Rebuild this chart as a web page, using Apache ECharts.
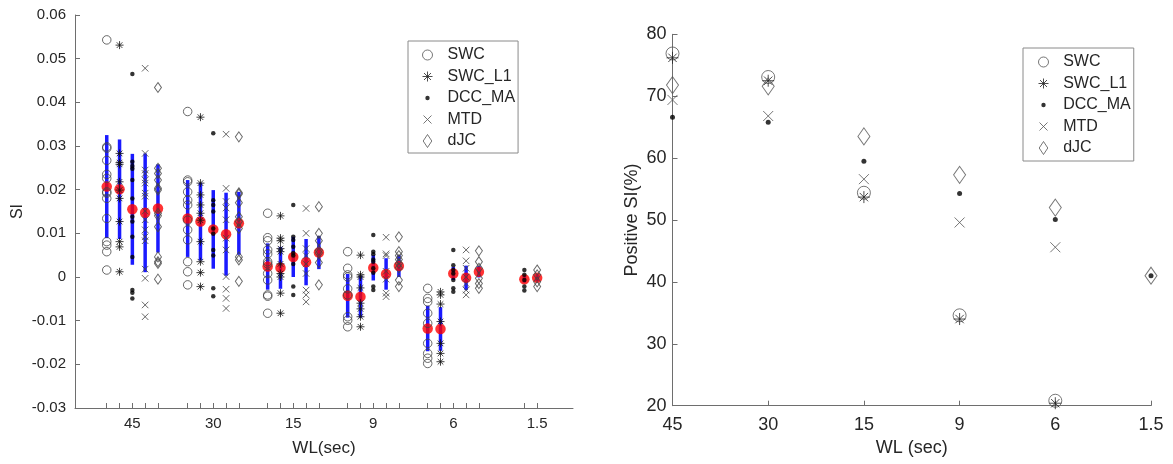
<!DOCTYPE html>
<html>
<head>
<meta charset="utf-8">
<script src="https://cdn.jsdelivr.net/npm/echarts@6/dist/echarts.min.js"></script>
<style>
  html, body { margin: 0; padding: 0; background: #fff; }
  #chart { width: 1173px; height: 464px; }
</style>
</head>
<body>
<div id="chart"></div>
<script>
// ---- data ----
const methods = ['SWC', 'SWC_L1', 'DCC_MA', 'MTD', 'dJC'];
const groupLabels = ['45', '30', '15', '9', '6', '1.5'];
// left panel: x position of each WL group (axis units) and the slot of each method in it
const groupCenters = [4.48, 10.8, 17.05, 23.3, 29.55, 36.1];
const groupSlots = [
  [-2, -1, 0, 1, 2],
  [-2, -1, 0, 1, 2],
  [-2, -1, 0, 1, 2],
  [-2, -1, 0, 1, 2],
  [-2, -1, 0, 1, 2],
  [null, null, -1, null, 0]
];

// SI of every run, per group (45, 30, 15, 9, 6, 1.5)
const swcPts = [
  [0.0543, 0.0298, 0.0295, 0.0267, 0.0235, 0.0226, 0.0195, 0.0192, 0.018, 0.0134, 0.0081, 0.0073, 0.0058, 0.0016],
  [0.0379, 0.0222, 0.0218, 0.0195, 0.0176, 0.0165, 0.013, 0.0108, 0.0085, 0.0035, 0.0012, -0.0018],
  [0.0146, 0.009, 0.0083, 0.0062, 0.0053, 0.0035, 0.003, 0.0008, -0.0007, -0.0041, -0.0044, -0.0083],
  [0.0058, 0.002, 0.0005, 0.0, -0.0027, -0.0041, -0.0091, -0.0099, -0.0114],
  [-0.0026, -0.0049, -0.0057, -0.0083, -0.0106, -0.0152, -0.0175, -0.0186, -0.0198],
  []
];
const swcL1Pts = [
  [0.0531, 0.0283, 0.0262, 0.0258, 0.0218, 0.0199, 0.018, 0.0127, 0.0081, 0.0069, 0.0012],
  [0.0366, 0.0215, 0.0188, 0.0165, 0.0146, 0.013, 0.0081, 0.0035, 0.001, -0.0022],
  [0.014, 0.0089, 0.0083, 0.0065, 0.0058, 0.003, 0.0008, 0.0, -0.0037, -0.0083],
  [0.005, 0.0005, 0.0, -0.0025, -0.006, -0.0073, -0.0091, -0.0114],
  [-0.0034, -0.0041, -0.0062, -0.0102, -0.0152, -0.0175, -0.0194],
  []
];
const dccPts = [
  [0.0465, 0.0264, 0.0254, 0.0248, 0.0222, 0.018, 0.0138, 0.0127, 0.0092, 0.0046, -0.003, -0.0036, -0.0049],
  [0.0329, 0.0176, 0.0165, 0.015, 0.0111, 0.0099, 0.0062, 0.0049, -0.0026, -0.0044],
  [0.0165, 0.0092, 0.0085, 0.0069, 0.0055, 0.0049, 0.003, -0.0022, -0.0041],
  [0.0096, 0.0058, 0.0052, 0.004, 0.0035, 0.002, 0.001, -0.0022, -0.003],
  [0.0062, 0.0027, 0.0016, 0.0008, -0.0007, -0.0026, -0.0034],
  [0.0016, 0.0005, -0.0007, -0.0022, -0.0031]
];
const mtdPts = [
  [0.0478, 0.0283, 0.0245, 0.0237, 0.0222, 0.0215, 0.0192, 0.0185, 0.0151, 0.0131, 0.0108, 0.0092, 0.0083, 0.0018, -0.0003, -0.0064, -0.0091],
  [0.0327, 0.0203, 0.0173, 0.0158, 0.0131, 0.0089, 0.0062, 0.0001, -0.0028, -0.0049, -0.0072],
  [0.0157, 0.01, 0.0065, 0.0049, 0.003, 0.0008, -0.003, -0.0041, -0.0057],
  [0.0091, 0.0053, 0.0049, 0.0013, -0.0005, -0.0037, -0.0045],
  [0.0062, 0.0037, 0.002, 0.0, -0.0015, -0.003, -0.0041],
  []
];
const djcPts = [
  [0.0434, 0.0249, 0.0237, 0.0222, 0.0203, 0.0199, 0.0146, 0.014, 0.0115, 0.0046, 0.0035, 0.0031, -0.0005],
  [0.0321, 0.0193, 0.019, 0.017, 0.0138, 0.0127, 0.0111, 0.0046, 0.0039, -0.001],
  [0.0161, 0.01, 0.0083, 0.0061, 0.0055, 0.0033, -0.0018],
  [0.0092, 0.0058, 0.0049, 0.004, 0.0031, 0.0021, -0.0007, -0.0022],
  [0.006, 0.0035, 0.002, -0.0003, -0.0015, -0.0026],
  [0.0016, 0.0005, -0.0011, -0.0022]
];

// mean (red dots) and std (blue bars) per method and group
const meanSWC   = [0.0207, 0.0134, 0.0024, -0.0043, -0.0118, null];
const meanSWCL1 = [0.0201, 0.0127, 0.0021, -0.0045, -0.0119, null];
const meanDCC   = [0.0155, 0.0109, 0.0046, 0.0021, 0.0008, -0.0005];
const meanMTD   = [0.0147, 0.0098, 0.0034, 0.0007, -0.0002, null];
const meanDJC   = [0.0157, 0.0123, 0.0056, 0.0025, 0.0012, -0.0002];
const stdSWC    = [0.0118, 0.0088, 0.0053, 0.005, 0.0052, null];
const stdSWCL1  = [0.0114, 0.0089, 0.0048, 0.0048, 0.005, null];
const stdDCC    = [0.0127, 0.009, 0.0046, 0.0029, 0.0015, 0.0008];
const stdMTD    = [0.0136, 0.0095, 0.0053, 0.0036, 0.0028, null];
const stdDJC    = [0.0101, 0.0072, 0.0038, 0.0025, 0.0013, 0.0008];

// right panel: positive SI (%)
const posSWC   = [76.9, 73.1, 54.4, 34.6, 20.8, null];
const posSWCL1 = [76.2, 72.5, 53.7, 34.0, 20.4, null];
const posDCC   = [66.6, 65.8, 59.5, 54.3, 50.1, 41.0];
const posMTD   = [69.4, 66.8, 56.6, 49.6, 45.6, null];
const posDJC   = [71.8, 71.6, 63.5, 57.3, 52.0, 41.0];

const ptsByMethod = [swcPts, swcL1Pts, dccPts, mtdPts, djcPts];
const meanByMethod = [meanSWC, meanSWCL1, meanDCC, meanMTD, meanDJC];
const stdByMethod = [stdSWC, stdSWCL1, stdDCC, stdMTD, stdDJC];
const posByMethod = [posSWC, posSWCL1, posDCC, posMTD, posDJC];

// ---- styles ----
const FONT = '"Liberation Sans", Arial, Helvetica, sans-serif';
const TXT = '#262626';
const AXC = '#6e6e6e';
const STAR = 'path://M5 0L5 10M0 5L10 5M1.5 1.5L8.5 8.5M1.5 8.5L8.5 1.5';
const CROSS = 'path://M0 0L10 10M0 10L10 0';
const hollow = c => ({ color: 'rgba(0,0,0,0)', borderColor: c, borderWidth: 1 });

const symLeft = [
  { symbol: 'circle', size: 8.5, style: hollow('#444') },
  { symbol: STAR, size: 8, style: hollow('#111') },
  { symbol: 'circle', size: 4.5, style: { color: '#000' } },
  { symbol: CROSS, size: 6.5, style: hollow('#444') },
  { symbol: 'diamond', size: [7, 10], style: hollow('#444') }
];
const symRight = [
  { symbol: 'circle', size: 13, style: hollow('#555') },
  { symbol: STAR, size: 12, style: hollow('#222') },
  { symbol: 'circle', size: 5, style: { color: '#000' } },
  { symbol: CROSS, size: 10, style: hollow('#555') },
  { symbol: 'diamond', size: [12, 17], style: hollow('#555') }
];
// legend icons drawn in a 12x14 box
const legendIcons = [
  'path://M0 0M12 14M11 7A5 5 0 1 1 1 7A5 5 0 1 1 11 7Z',
  'path://M0 0M12 14M6 2L6 12M1 7L11 7M2.5 3.5L9.5 10.5M2.5 10.5L9.5 3.5',
  'path://M0 0M12 14M8.2 7A2.2 2.2 0 1 1 3.8 7A2.2 2.2 0 1 1 8.2 7Z',
  'path://M0 0M12 14M2 3L10 11M2 11L10 3',
  'path://M0 0M12 14M6 0.5L10.3 7L6 13.5L1.7 7Z'
];
const legendStyles = [hollow('#555'), hollow('#222'), { color: '#000' }, hollow('#555'), hollow('#555')];

// ---- series ----
const series = [];
const tickVals = [];
groupCenters.forEach((c, g) => groupSlots[g].forEach(s => { if (s !== null) tickVals.push(c + s); }));

const barData = [];
const meanData = [];
methods.forEach((name, mi) => {
  meanByMethod[mi].forEach((m, g) => {
    const s = groupSlots[g][mi];
    if (m === null || s === null) return;
    const x = groupCenters[g] + s;
    barData.push([x, m - stdByMethod[mi][g], m + stdByMethod[mi][g]]);
    meanData.push([x, m]);
  });
});

series.push({
  type: 'custom', xAxisIndex: 0, yAxisIndex: 0, z: 2, silent: true,
  data: barData,
  renderItem: (params, api) => {
    const p1 = api.coord([api.value(0), api.value(1)]);
    const p2 = api.coord([api.value(0), api.value(2)]);
    return { type: 'line', shape: { x1: p1[0], y1: p1[1], x2: p2[0], y2: p2[1] },
             style: { stroke: '#1a1aff', lineWidth: 3.5 } };
  }
});
series.push({
  type: 'scatter', xAxisIndex: 0, yAxisIndex: 0, z: 3, silent: true,
  symbol: 'circle', symbolSize: 10.5, itemStyle: { color: '#ff0000' },
  data: meanData
});

methods.forEach((name, mi) => {
  const data = [];
  ptsByMethod[mi].forEach((vals, g) => {
    const s = groupSlots[g][mi];
    if (s === null) return;
    vals.forEach(v => data.push([groupCenters[g] + s, v]));
  });
  series.push({
    type: 'scatter', name, xAxisIndex: 0, yAxisIndex: 0, z: 4,
    symbol: symLeft[mi].symbol, symbolSize: symLeft[mi].size,
    itemStyle: symLeft[mi].style, data
  });
});

methods.forEach((name, mi) => {
  const data = [];
  posByMethod[mi].forEach((v, i) => { if (v !== null) data.push([i, v]); });
  series.push({
    type: 'scatter', name, xAxisIndex: 1, yAxisIndex: 1, z: 4,
    symbol: symRight[mi].symbol, symbolSize: symRight[mi].size,
    itemStyle: symRight[mi].style, data
  });
});

const legendData = methods.map((n, i) => ({ name: n, icon: legendIcons[i], itemStyle: legendStyles[i] }));
const legendBase = {
  orient: 'vertical', selectedMode: false, data: legendData,
  itemWidth: 12, itemHeight: 14, itemGap: 5.5,
  borderColor: '#8a8a8a', borderWidth: 1, backgroundColor: '#fff',
  textStyle: { fontSize: 16, lineHeight: 16, color: TXT, fontFamily: FONT }
};

const axisLine = { show: true, onZero: false, lineStyle: { color: AXC, width: 1 } };
const axisTick = { show: true, inside: true, length: 5, lineStyle: { color: AXC } };

const option = {
  animation: false,
  backgroundColor: '#fff',
  textStyle: { fontFamily: FONT },
  grid: [
    { left: 75, top: 15, width: 498, height: 393 },
    { left: 672.5, top: 34.3, width: 478.5, height: 371.4 }
  ],
  xAxis: [
    {
      type: 'value', gridIndex: 0, min: 0, max: 38.9,
      axisLine, splitLine: { show: false },
      axisTick: Object.assign({ customValues: tickVals }, axisTick),
      axisLabel: {
        customValues: groupCenters, margin: 8, fontSize: 15, color: TXT,
        formatter: v => groupLabels[groupCenters.findIndex(c => Math.abs(c - v) < 1e-6)]
      },
      name: 'WL(sec)', nameLocation: 'middle', nameGap: 32,
      nameTextStyle: { fontSize: 17, color: TXT }
    },
    {
      type: 'category', gridIndex: 1, data: groupLabels, boundaryGap: false,
      axisLine, axisTick, splitLine: { show: false },
      axisLabel: { margin: 10, fontSize: 18, color: TXT },
      name: 'WL (sec)', nameLocation: 'middle', nameGap: 33,
      nameTextStyle: { fontSize: 18, color: TXT }
    }
  ],
  yAxis: [
    {
      type: 'value', gridIndex: 0, min: -0.03, max: 0.06, interval: 0.01,
      axisLine, axisTick, splitLine: { show: false },
      axisLabel: { margin: 9, fontSize: 15, color: TXT },
      name: 'SI', nameLocation: 'middle', nameGap: 49,
      nameTextStyle: { fontSize: 16, color: TXT }
    },
    {
      type: 'value', gridIndex: 1, min: 20, max: 80, interval: 10,
      axisLine, axisTick, splitLine: { show: false },
      axisLabel: { margin: 6, fontSize: 18, color: TXT },
      name: 'Positive SI(%)', nameLocation: 'middle', nameGap: 31,
      nameTextStyle: { fontSize: 18, color: TXT }
    }
  ],
  legend: [
    Object.assign({}, legendBase, {
      left: 408, top: 41, padding: [6, 3, 4, 13],
      textStyle: Object.assign({}, legendBase.textStyle, { padding: [0, 0, 0, 9] })
    }),
    Object.assign({}, legendBase, {
      left: 1023, top: 48, padding: [6, 3, 5, 14],
      textStyle: Object.assign({}, legendBase.textStyle, { padding: [0, 0, 0, 8.7] })
    })
  ],
  series
};

const myChart = echarts.init(document.getElementById('chart'));
myChart.setOption(option);
</script>
</body>
</html>
